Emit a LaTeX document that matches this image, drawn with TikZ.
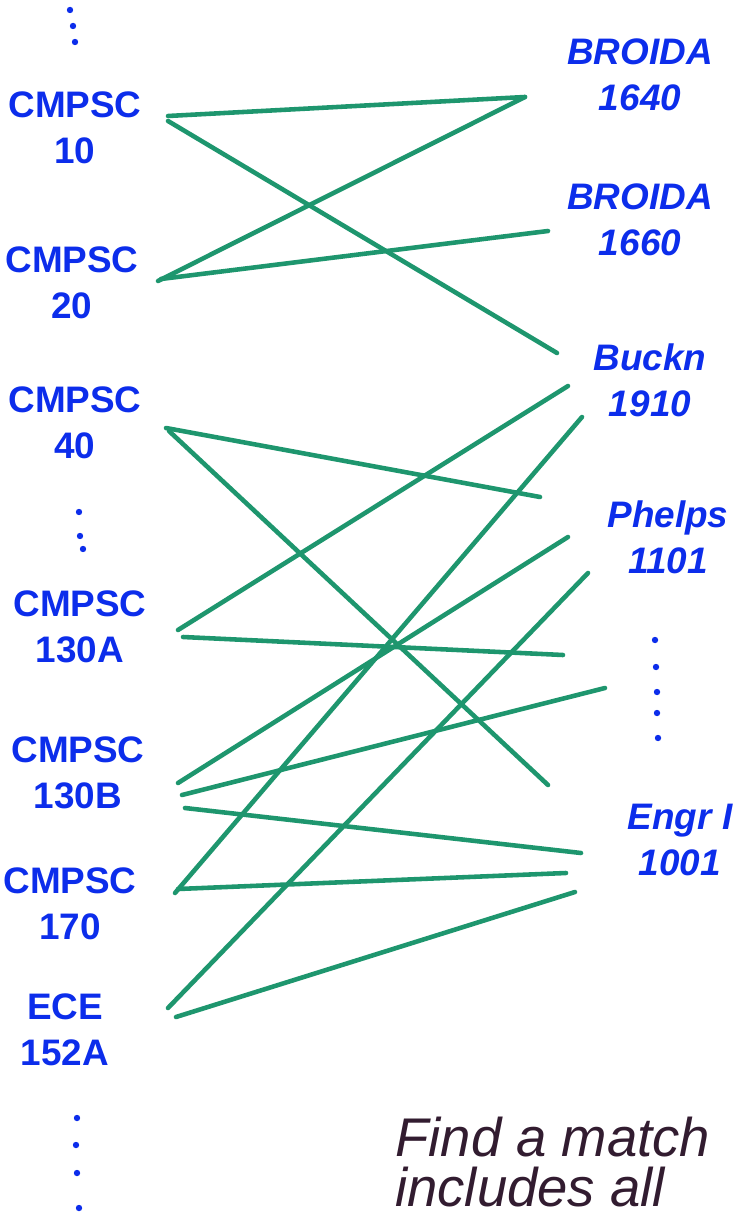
\documentclass[tikz,border=0pt]{standalone}
\usepackage{fontspec}
\setmainfont{Liberation Sans}
\usetikzlibrary{positioning}
\definecolor{marker}{RGB}{12,45,235}
\definecolor{felt}{RGB}{30,150,110}
\definecolor{ink}{RGB}{50,28,48}
\tikzset{
  course/.style={text=marker, font=\fontsize{21}{26}\selectfont\bfseries, align=center, inner sep=0pt},
  room/.style={course, font=\fontsize{21}{26}\selectfont\bfseries\itshape},
  pairing/.style={draw=felt, line width=2.6pt, line cap=round},
  note/.style={text=ink, font=\fontsize{31}{34}\selectfont\itshape, inner sep=0pt, anchor=base west},
  dot/.style={fill=marker}
}

\begin{document}
\begin{tikzpicture}[x=0.02cm, y=-0.02cm, node distance=0.6cm]
    \useasboundingbox (0,0) rectangle (752,1219);

    % courses
    \node[course] (cs10)  at (75,128)  {CMPSC\\10};
    \node[course] (cs20)  at (72,283)  {CMPSC\\20};
    \node[course] (cs40)  at (75,423)  {CMPSC\\40};
    \node[course] (cs130a) at (80,627) {CMPSC\\130A};
    \node[course] (cs130b) at (78,773) {CMPSC\\130B};
    \node[course] (cs170) at (70,904)  {CMPSC\\170};
    \node[course] (ece152a) at (65,1030) {ECE\\152A};

    % rooms
    \node[room] (br1640) at (640,75)  {BROIDA\\1640};
    \node[room] (br1660) at (640,220) {BROIDA\\1660};
    \node[room] (buck)   at (650,380) {Buckn\\1910};
    \node[room] (phelps) at (668,537) {Phelps\\1101};
    \node[room] (engr)   at (680,840) {Engr I\\1001};

    \node[note] (find) at (395,1156) {Find a match};
    \node[note] (incl) at (395,1206) {includes all};

    % ends of the pencil strokes
    \coordinate (c10u) at (168,116);
    \coordinate (c10d) at (168,121);
    \coordinate (c20u) at (158,281);
    \coordinate (c20d) at (161,279);
    \coordinate (c40u) at (166,428);
    \coordinate (c40d) at (169,431);
    \coordinate (a1) at (178,630);
    \coordinate (a2) at (183,637);
    \coordinate (b1) at (178,783);
    \coordinate (b2) at (182,795);
    \coordinate (b3) at (185,808);
    \coordinate (s1) at (175,893);
    \coordinate (s2) at (178,889);
    \coordinate (e1) at (168,1008);
    \coordinate (e2) at (176,1017);

    \coordinate (r40) at (525,97);
    \coordinate (r60) at (548,231);
    \coordinate (bk1) at (557,353);
    \coordinate (bk2) at (568,386);
    \coordinate (bk3) at (582,417);
    \coordinate (ph1) at (540,497);
    \coordinate (ph2) at (568,537);
    \coordinate (ph3) at (588,573);
    \coordinate (dA) at (563,655);
    \coordinate (dB) at (605,688);
    \coordinate (dC) at (548,785);
    \coordinate (en1) at (581,853);
    \coordinate (en2) at (566,873);
    \coordinate (en3) at (575,892);

    \draw[pairing] (c10u) -- (r40);
    \draw[pairing] (c10d) -- (bk1);
    \draw[pairing] (c20u) -- (r40);
    \draw[pairing] (c20d) -- (r60);
    \draw[pairing] (c40u) -- (ph1);
    \draw[pairing] (c40d) -- (dC);
    \draw[pairing] (a1) -- (bk2);
    \draw[pairing] (a2) -- (dA);
    \draw[pairing] (b1) -- (ph2);
    \draw[pairing] (b2) -- (dB);
    \draw[pairing] (b3) -- (en1);
    \draw[pairing] (s1) -- (bk3);
    \draw[pairing] (s2) -- (en2);
    \draw[pairing] (e1) -- (ph3);
    \draw[pairing] (e2) -- (en3);

    % the "more of them" dots
    \foreach \x/\y in {70/10, 73/26, 75/42, 79/512, 80/536, 83/549,
                       77/1118, 76/1145, 77/1173, 79/1208,
                       655/640, 656/667, 657/692, 657/713, 658/738}
      \fill[dot] (\x,\y) circle (3.2);
  \end{tikzpicture}
\end{document}
